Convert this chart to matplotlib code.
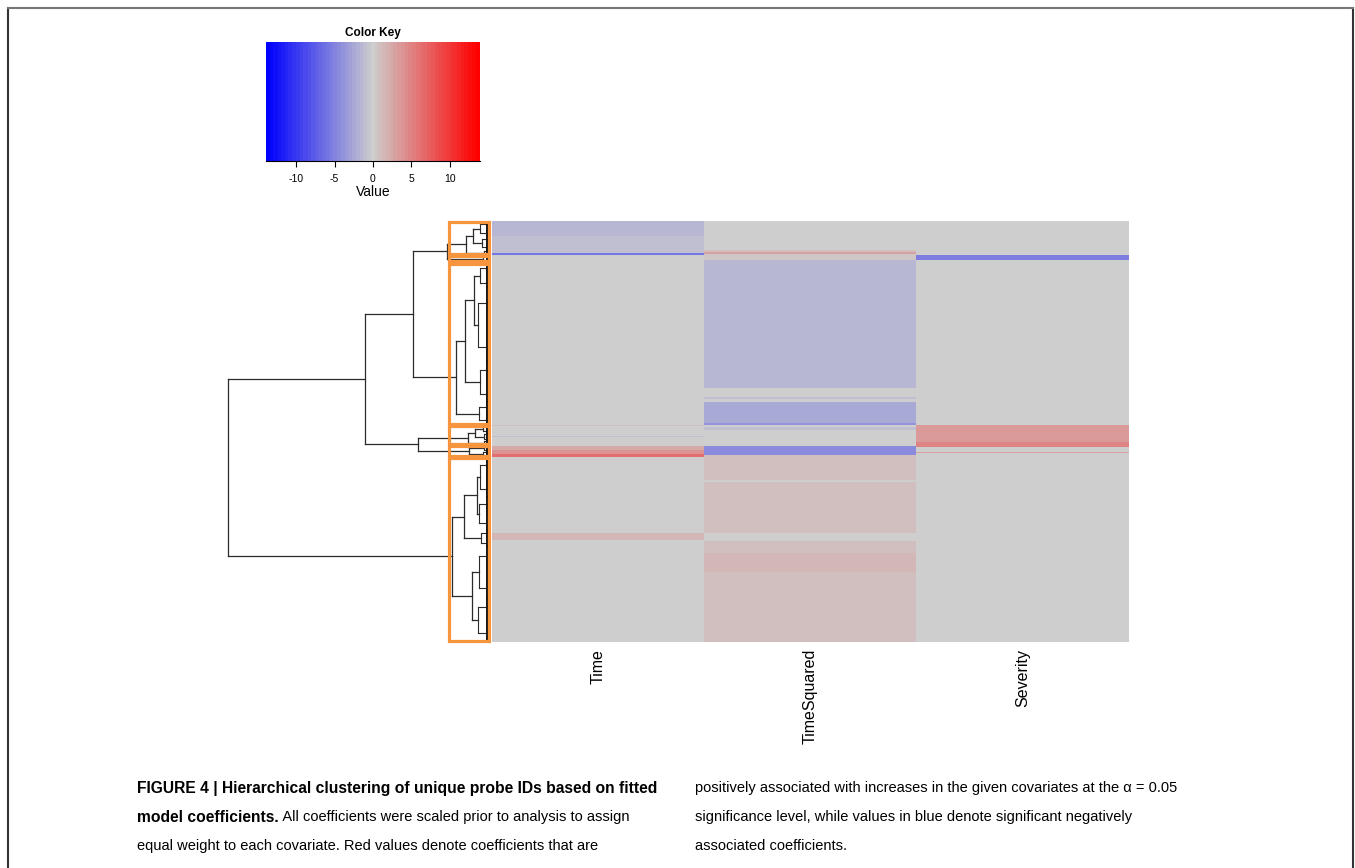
import numpy as np
import matplotlib
matplotlib.use('Agg')
import matplotlib.pyplot as plt
from matplotlib.colors import LinearSegmentedColormap
from matplotlib.patches import Rectangle
from matplotlib.lines import Line2D
from matplotlib import font_manager

W, H = 1355, 868

# ---- data ----
columns = ['Time', 'TimeSquared', 'Severity']
n_rows = 421
key_ticks = [-10, -5, 0, 5, 10]
key_range = 13.9

# bands of rows (first row, end row, scaled coefficient); rows not listed are 0
time_bands = [(0, 15, -1.4), (15, 30, -0.9), (30, 32, -0.8), (32, 34, -6.0),
              (204, 205, 1.0), (215, 216, -0.8),
              (225, 229, 2.2), (229, 233, 4.0), (233, 236, 6.5),
              (312, 319, 1.3)]
timesq_bands = [(29, 31, 0.8), (31, 33, 3.0), (33, 39, 0.5),
                (39, 167, -1.3),
                (176, 178, -1.0),
                (181, 202, -2.3), (202, 204, -3.8),
                (206, 209, -0.9),
                (225, 234, -4.5),
                (234, 259, 0.9), (261, 312, 0.9),
                (320, 332, 1.0), (332, 351, 1.4), (351, 421, 1.0)]
severity_bands = [(34, 39, -5.5),
                  (204, 221, 3.2), (221, 226, 5.0),
                  (231, 232, 3.0)]

# clusters marked with orange boxes (row ranges)
boxed_clusters = [(0, 34), (34, 41), (42, 204), (204, 224), (224, 236), (236, 421)]


def leaf(a, b, h):
    return {'rows': (a, b), 'h': h}


def node(h, a, b):
    return {'h': h, 'kids': (a, b)}


cl1 = node(2.6, node(1.9, leaf(0, 15, 1.2), leaf(15, 29, 1.0)), leaf(29, 34, 0.8))
cl1b = leaf(34, 41, 0.9)
cl2 = node(3.6, node(2.7, node(1.8, leaf(42, 67, 1.2), leaf(67, 141, 1.4)),
                     leaf(141, 181, 1.2)), leaf(181, 204, 1.3))
cl3 = node(2.4, node(1.7, leaf(204, 212, 0.9), leaf(212, 219, 0.8)), leaf(219, 224, 0.8))
cl4 = node(2.3, leaf(224, 230, 0.8), leaf(230, 236, 0.9))
cl5 = node(4.0, node(2.8, node(1.5, leaf(236, 276, 1.2), leaf(276, 309, 1.3)), leaf(309, 325, 1.1)),
           node(2.0, leaf(325, 377, 1.3), leaf(377, 421, 1.4)))
tree = node(26.4, node(12.7, node(7.9, node(4.5, cl1, cl1b), cl2), node(7.4, cl3, cl4)), cl5)

caption_left = [
    [('FIGURE 4 | Hierarchical clustering of unique probe IDs based on fitted', 'bold')],
    [('model coefficients.', 'bold'), (' All coefficients were scaled prior to analysis to assign', 'normal')],
    [('equal weight to each covariate. Red values denote coefficients that are', 'normal')],
]
caption_right = [
    'positively associated with increases in the given covariates at the \u03b1 = 0.05',
    'significance level, while values in blue denote significant negatively',
    'associated coefficients.',
]

# ---- build matrix ----
mat = np.zeros((n_rows, len(columns)))
for j, bands in enumerate([time_bands, timesq_bands, severity_bands]):
    for a, b, v in bands:
        mat[a:b, j] = v

cmap = LinearSegmentedColormap.from_list('bluegrayred', ['#0000ff', '#cecece', '#ff0000']).resampled(57)

plt.rcParams['font.family'] = ['Liberation Sans', 'DejaVu Sans']
fig = plt.figure(figsize=(W / 100, H / 100), dpi=100)


def fax(x0, y0, x1, y1):
    return fig.add_axes([x0 / W, 1 - y1 / H, (x1 - x0) / W, (y1 - y0) / H])


# heatmap
axh = fax(492, 221, 1129, 642)
axh.imshow(mat, cmap=cmap, vmin=-key_range, vmax=key_range, aspect='auto',
           interpolation='nearest', extent=(0, 3, n_rows, 0))
axh.set_xlim(0, 3)
axh.set_ylim(n_rows, 0)
axh.set_xticks([0.5, 1.5, 2.5])
axh.set_xticklabels(columns, rotation=90, fontsize=11.5)
axh.tick_params(axis='x', length=0, pad=5)
axh.set_yticks([])
for s in axh.spines.values():
    s.set_visible(False)

# dendrogram
axd = fax(220, 221, 492, 642)
axd.set_xlim(27.2, 0)
axd.set_ylim(n_rows, 0)
axd.axis('off')
lc = '#2b2b2b'


def draw(t):
    if 'rows' in t:
        a, b = t['rows']
        span = b - a
        y0, y1 = a + span * 0.2, b - span * 0.2
        axd.plot([t['h'], t['h']], [y0, y1], color=lc, lw=0.8)
        axd.plot([t['h'], 0.5], [y0, y0], color=lc, lw=0.8)
        axd.plot([t['h'], 0.5], [y1, y1], color=lc, lw=0.8)
        axd.plot([0.5, 0.5], [a + 0.3, b - 0.3], color='#111111', lw=1.4)
        return (a + b) / 2
    ys = [draw(k) for k in t['kids']]
    for k, y in zip(t['kids'], ys):
        axd.plot([k['h'], t['h']], [y, y], color=lc, lw=0.9)
    axd.plot([t['h'], t['h']], ys, color=lc, lw=0.9)
    return sum(ys) / 2


draw(tree)

for a, b in boxed_clusters:
    axd.add_patch(Rectangle((4.3, a + 0.6), -4.0, b - a - 1.2, fill=False,
                            edgecolor='#f7943e', lw=2.3, clip_on=False, zorder=5))

# color key
axk = fax(266, 42, 480, 161)
grad = np.linspace(-key_range, key_range, 400)[None, :]
axk.imshow(grad, cmap=cmap, vmin=-key_range, vmax=key_range, aspect='auto',
           extent=(-key_range, key_range, 0, 1), interpolation='nearest')
axk.set_xlim(-key_range, key_range)
axk.set_ylim(0, 1)
axk.set_yticks([])
axk.set_xticks(key_ticks)
axk.set_xticklabels([str(t) for t in key_ticks], fontsize=7.5)
axk.tick_params(axis='x', length=4, width=0.8, pad=5)
for side in ['top', 'left', 'right']:
    axk.spines[side].set_visible(False)
axk.spines['bottom'].set_linewidth(0.8)
axk.set_title('Color Key', fontsize=8.5, fontweight='bold', pad=4)
axk.set_xlabel('Value', fontsize=10, labelpad=1)

# frame
fig.add_artist(Line2D([8 / W, 8 / W], [0, 1 - 8 / H], transform=fig.transFigure, color='#333333', lw=1.5))
fig.add_artist(Line2D([1353 / W, 1353 / W], [0, 1 - 8 / H], transform=fig.transFigure, color='#333333', lw=1.5))
fig.add_artist(Line2D([8 / W, 1353 / W], [1 - 8 / H, 1 - 8 / H], transform=fig.transFigure, color='#777777', lw=1.5))

# caption
cap_fam = ['Liberation Sans Narrow', 'Liberation Sans', 'DejaVu Sans']
try:
    font_manager.findfont(font_manager.FontProperties(family='Liberation Sans Narrow'), fallback_to_default=False)
except Exception:
    cap_fam = ['Liberation Sans', 'DejaVu Sans']

renderer = fig.canvas.get_renderer()


def fit_size(txt, wgt, target):
    probe = fig.text(0, 0, txt, fontsize=12, fontweight=wgt, family=cap_fam)
    pw = probe.get_window_extent(renderer).width
    probe.remove()
    return 12 * target / pw


sizes = {'bold': fit_size(caption_left[0][0][0], 'bold', 518),
         'normal': fit_size(caption_left[2][0][0], 'normal', 458)}

line_y = [788, 817, 846]
for parts, y in zip(caption_left, line_y):
    x = 137
    for txt, wgt in parts:
        t = fig.text(x / W, 1 - y / H, txt, fontsize=sizes[wgt], fontweight=wgt, family=cap_fam,
                     va='center', ha='left')
        x += t.get_window_extent(renderer).width
for txt, y in zip(caption_right, line_y):
    fig.text(695 / W, 1 - y / H, txt, fontsize=sizes['normal'], family=cap_fam, va='center', ha='left')

fig.savefig('out.png', dpi=100)
